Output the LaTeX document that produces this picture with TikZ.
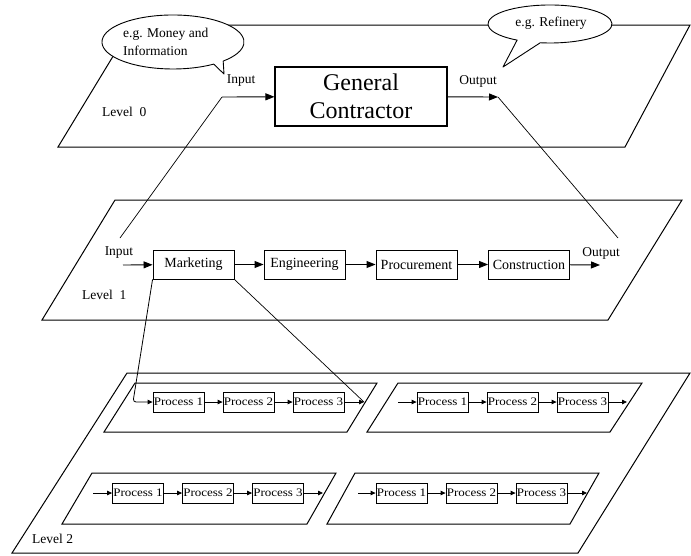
\documentclass[tikz,border=0pt]{standalone}
\usepackage{fontspec}
\setmainfont{Liberation Serif}
\usetikzlibrary{arrows.meta}

% stretched label used inside the small process boxes
\newcommand\ptext[1]{\scalebox{1.13}[1]{#1}}
% one row of three processes: prefix, x of first box, y
\newcommand\procrow[3]{%
  \node[proc] (#1a) at (#2,#3) {\ptext{Process 1}};
  \node[proc] (#1b) at (#2+70,#3) {\ptext{Process 2}};
  \node[proc] (#1c) at (#2+140,#3) {\ptext{Process 3}};
  \draw[pflow] (#1a) -- (#1b);
  \draw[pflow] (#1b) -- (#1c);
}

\begin{document}
\begin{tikzpicture}[x=1pt,y=-1pt,
  plane/.style={draw,line width=1pt,line join=miter},
  gcbox/.style={draw,line width=1.1pt,minimum width=172pt,minimum height=59pt,
    inner sep=0pt,align=center,font=\fontsize{24}{28}\selectfont},
  stage/.style={draw,line width=0.9pt,minimum width=81pt,minimum height=29pt,
    inner sep=0pt,font=\fontsize{14}{16}\selectfont},
  proc/.style={draw,line width=0.8pt,minimum width=51pt,minimum height=20pt,
    inner sep=0pt,font=\fontsize{11.5}{13}\selectfont},
  flow/.style={line width=0.9pt,-{Triangle[length=9pt,width=7pt]}},
  pflow/.style={line width=0.8pt,-{Triangle[length=5pt,width=4.5pt]}},
  link/.style={line width=0.7pt},
  lbl/.style={inner sep=0pt,font=\fontsize{13.5}{15}\selectfont},
  bubble/.style={draw,fill=white,line width=0.9pt,line join=round},
  btext/.style={inner sep=0pt,align=left,font=\fontsize{13.5}{18}\selectfont}
]
\useasboundingbox (0,0) rectangle (691,555);

% ---------- the three planes ----------
\draw[plane] (132,25) -- (690,25) -- (625,147) -- (58,147) -- cycle;
\draw[plane] (115,200) -- (682,200) -- (608,320) -- (42,320) -- cycle;
\draw[plane] (127,373) -- (690,373) -- (578,553) -- (12,553) -- cycle;

% sub-planes of level 2
\draw[plane] (135,383) -- (377,383) -- (347,432) -- (104,432) -- cycle;
\draw[plane] (398,383) -- (642,383) -- (610,432) -- (367,432) -- cycle;
\draw[plane] (92,473) -- (336,473) -- (307,524) -- (62,524) -- cycle;
\draw[plane] (355,473) -- (599,473) -- (570,524) -- (327,524) -- cycle;

% ---------- level 0 ----------
\node[gcbox] (gc) at (361,96.5) {General\\Contractor};
\coordinate (in0) at (222,97);
\coordinate (out0) at (498,97);
\draw[flow] (in0) -- (gc);
\draw[flow] (gc) -- (out0);
\node[lbl] (in0l) at (241,81) {Input};
\node[lbl] (out0l) at (478,81) {Output};
\node[lbl,anchor=west] (lv0) at (102,112) {Level\ \ 0};

% ---------- level 1 ----------
\node[stage] (mk) at (193.5,264.5) {Marketing};
\node[stage] (en) at (304.5,264.5) {Engineering};
\node[stage] (pr) at (416.5,264.5) {Procurement};
\node[stage] (co) at (529,264.5) {Construction};
\coordinate (in1) at (123,265);
\coordinate (out1) at (600,265);
\draw[flow] (in1) -- (mk);
\draw[flow] (mk) -- (en);
\draw[flow] (en) -- (pr);
\draw[flow] (pr) -- (co);
\draw[flow] (co) -- (out1);
\node[lbl] (in1l) at (119,253) {Input};
\node[lbl] (out1l) at (601,253) {Output};
\node[lbl,anchor=west] (lv1) at (82,295) {Level\ \ 1};

% ---------- level 2 ----------
\procrow{ul}{178.5}{402}
\procrow{ur}{442.5}{402}
\procrow{ll}{138}{493}
\procrow{lr}{401.5}{493}

\coordinate (ulin) at (133,402);
\coordinate (ulout) at (364,402);
\coordinate (urin) at (398,402);
\coordinate (urout) at (627,402);
\coordinate (llin) at (93,493);
\coordinate (llout) at (323,493);
\coordinate (lrin) at (358,493);
\coordinate (lrout) at (587,493);
\draw[pflow] (urin) -- (ura);
\draw[pflow] (llin) -- (lla);
\draw[pflow] (lrin) -- (lra);
\draw[pflow] (ulc) -- (ulout);
\draw[pflow] (urc) -- (urout);
\draw[pflow] (llc) -- (llout);
\draw[pflow] (lrc) -- (lrout);
\node[lbl,anchor=west] (lv2) at (32,539) {Level 2};

% ---------- links between levels ----------
\coordinate (in1top) at (120,238);
\coordinate (out1top) at (618,238);
\draw[link] (in0) -- (in1top);
\draw[link] (out0) -- (out1top);
\draw[pflow,rounded corners=3pt] (mk.south west) -- (ulin) -- (ula);
\draw[link] (mk.south east) -- (ulout);

% ---------- call-outs ----------
\draw[bubble] (224,74) -- (213.7,64.1)
  arc[start angle=55,end angle=405,x radius=71,y radius=27] -- cycle;
\node[btext,anchor=west] (b1) at (123,42) {e.g. Money and\\Information};
\draw[bubble] (503,67) -- (517.1,40.1)
  arc[start angle=122,end angle=459,x radius=62,y radius=19] -- cycle;
\node[btext] (b2) at (551,23) {e.g. Refinery};
\end{tikzpicture}
\end{document}
